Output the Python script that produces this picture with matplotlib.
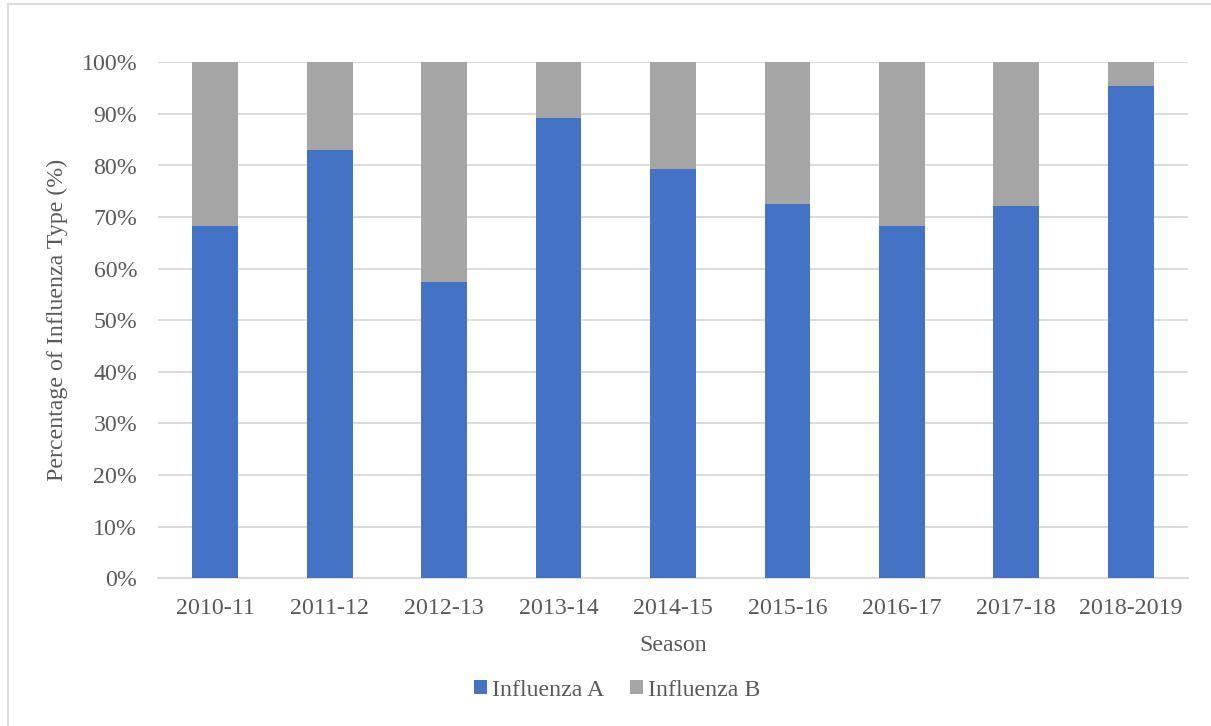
import matplotlib
matplotlib.use("Agg")
import matplotlib.pyplot as plt
from matplotlib.patches import Rectangle
import numpy as np

# Share of positive specimens by influenza type, per season (%)
seasons = ["2010-11", "2011-12", "2012-13", "2013-14", "2014-15",
           "2015-16", "2016-17", "2017-18", "2018-2019"]
flu_a = [68.3, 83.1, 57.5, 89.3, 79.4, 72.6, 68.3, 72.2, 95.5]
flu_b = [100 - v for v in flu_a]

BLUE = "#4472C4"
GREY = "#A5A5A5"
TEXT = "#595959"
GRID = "#D9D9D9"
FS = 17.2

plt.rcParams["font.family"] = ["Liberation Serif", "DejaVu Serif"]

W, H = 1211, 726
fig = plt.figure(figsize=(W / 100, H / 100), dpi=100)

# chart frame (only left/top edges fall inside the image)
fig.patches.append(Rectangle((8 / W, -0.1), 1.2, 1.1 - 4 / H, transform=fig.transFigure,
                             fill=False, edgecolor=GRID, lw=1.3, zorder=0))

ax = fig.add_axes([158 / W, 1 - 578.3 / H, (1188 - 158) / W, (578.3 - 62.3) / H])

x = np.arange(len(seasons))
ax.bar(x, flu_a, width=0.4, color=BLUE, label="Influenza A", zorder=3)
ax.bar(x, flu_b, width=0.4, bottom=flu_a, color=GREY, label="Influenza B", zorder=3)

ax.set_xlim(-0.5, len(seasons) - 0.5)
ax.set_ylim(0, 100)
ax.set_yticks(np.arange(0, 101, 10))
ax.set_yticklabels([f"{v}%" for v in range(0, 101, 10)])
ax.set_xticks(x)
ax.set_xticklabels(seasons)

ax.grid(axis="y", color=GRID, lw=1.3, zorder=0)
ax.set_axisbelow(True)
for side in ["top", "right", "left"]:
    ax.spines[side].set_visible(False)
ax.spines["bottom"].set_color(GRID)
ax.spines["bottom"].set_linewidth(1.3)
ax.tick_params(length=0, labelsize=FS, colors=TEXT)
ax.tick_params(axis="y", pad=15)
ax.tick_params(axis="x", pad=14)

ax.set_xlabel("Season", fontsize=FS, color=TEXT, labelpad=12)
ax.set_ylabel("Percentage of Influenza Type (%)", fontsize=FS, color=TEXT, labelpad=10)

fig.legend(loc="center", bbox_to_anchor=(617 / W, 1 - 690 / H), ncol=2, frameon=False,
           fontsize=FS, labelcolor=TEXT, handlelength=0.55, handleheight=0.55,
           handletextpad=0.2, columnspacing=1.1)

fig.savefig("out.png", dpi=100)
